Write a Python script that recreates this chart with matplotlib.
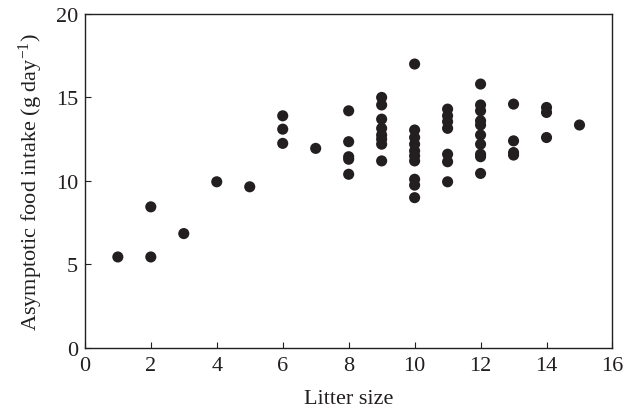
import numpy as np
import matplotlib
matplotlib.use('Agg')
import matplotlib.pyplot as plt

plt.rcParams['font.family'] = ['Liberation Serif', 'DejaVu Serif']
plt.rcParams['mathtext.fontset'] = 'custom'
plt.rcParams['mathtext.rm'] = 'Liberation Serif'
plt.rcParams['mathtext.it'] = 'Liberation Serif:italic'

# Tamaño de camada y consumo asintótico (g/día)
camada_1 = [1]
consumo_1 = [5.45]
camada_2 = [2, 2]
consumo_2 = [5.45, 8.45]
camada_3 = [3]
consumo_3 = [6.85]
camada_4 = [4]
consumo_4 = [9.95]
camada_5 = [5]
consumo_5 = [9.65]
camada_6 = [6, 6, 6]
consumo_6 = [13.9, 13.1, 12.25]
camada_7 = [7]
consumo_7 = [11.95]
camada_8 = [8] * 5
consumo_8 = [14.2, 12.35, 11.45, 11.3, 10.4]
camada_9 = [9] * 8
consumo_9 = [15.0, 14.55, 13.7, 13.15, 12.75, 12.5, 12.2, 11.2]
camada_10 = [10] * 10
consumo_10 = [17.0, 13.05, 12.6, 12.2, 11.8, 11.5, 11.2, 10.1, 9.75, 9.0]
camada_11 = [11] * 7
consumo_11 = [14.3, 13.9, 13.55, 13.15, 11.6, 11.15, 9.95]
camada_12 = [12] * 10
consumo_12 = [15.8, 14.55, 14.2, 13.6, 13.35, 12.75, 12.2, 11.6, 11.45, 10.45]
camada_13 = [13] * 4
consumo_13 = [14.6, 12.4, 11.7, 11.55]
camada_14 = [14] * 3
consumo_14 = [14.4, 14.1, 12.6]
camada_15 = [15]
consumo_15 = [13.35]

x = np.concatenate([camada_1, camada_2, camada_3, camada_4, camada_5, camada_6,
                    camada_7, camada_8, camada_9, camada_10, camada_11, camada_12,
                    camada_13, camada_14, camada_15])
y = np.concatenate([consumo_1, consumo_2, consumo_3, consumo_4, consumo_5, consumo_6,
                    consumo_7, consumo_8, consumo_9, consumo_10, consumo_11, consumo_12,
                    consumo_13, consumo_14, consumo_15])

fig = plt.figure(figsize=(6.38, 4.14), dpi=100)
ax = fig.add_axes([0.133, 0.157, 0.827, 0.807])
ax.scatter(x, y, s=64, color='#231f20', edgecolors='none', zorder=3)

ax.set_xlim(0, 16)
ax.set_ylim(0, 20)
ax.set_xticks(range(0, 17, 2))
ax.set_yticks(range(0, 21, 5))
ax.tick_params(direction='in', length=4.5, width=0.8, labelsize=16,
               colors='#231f20')
ax.tick_params(axis='x', pad=6)
ax.tick_params(axis='y', pad=5)
for s in ax.spines.values():
    s.set_linewidth(1.0)
    s.set_color('#231f20')

ax.set_xlabel('Litter size', fontsize=16, color='#231f20', labelpad=10)
ax.set_ylabel('Asymptotic food intake (g day$^{\\mathrm{-1}}$)', fontsize=16,
              color='#231f20', labelpad=8)

fig.savefig('out.png', dpi=100)
